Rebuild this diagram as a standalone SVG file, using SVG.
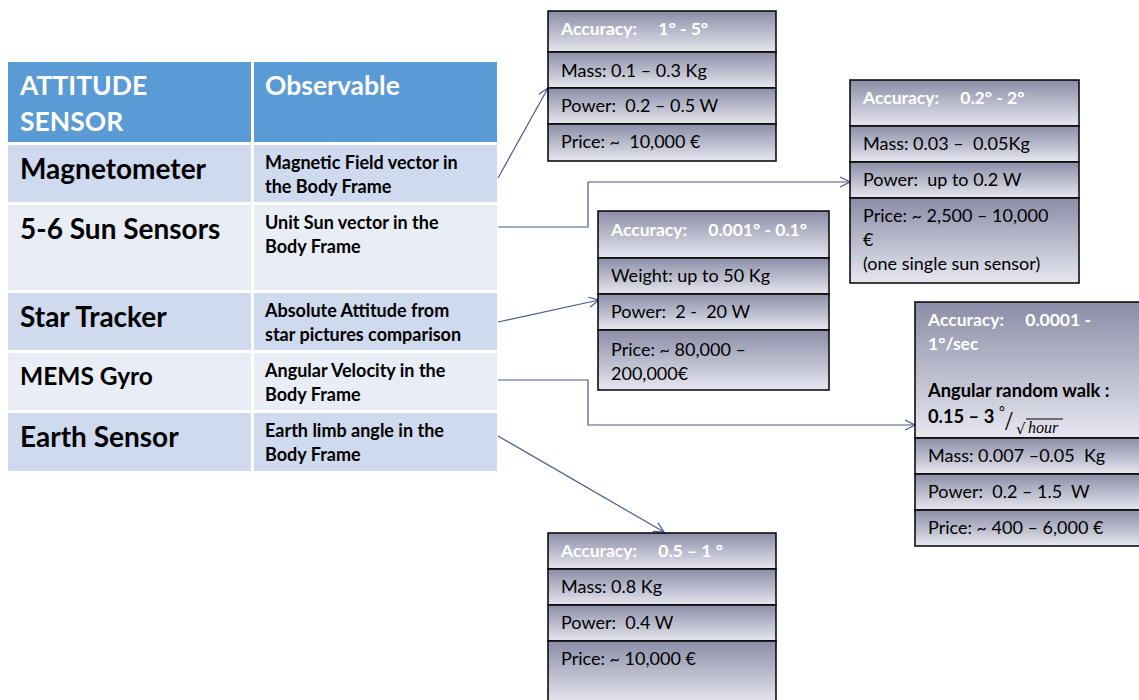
<svg xmlns="http://www.w3.org/2000/svg" width="1139" height="700" viewBox="0 0 1139 700">
<defs>
<linearGradient id="g" x1="0" y1="0" x2="0" y2="1">
<stop offset="0" stop-color="#8B8DA7"/>
<stop offset="1" stop-color="#E6E7EF"/>
</linearGradient>
<marker id="arr" viewBox="0 0 12 12" refX="11" refY="6" markerWidth="12" markerHeight="12" markerUnits="userSpaceOnUse" orient="auto">
<path d="M1,1 L11,6 L1,11" fill="none" stroke="#4A5A8A" stroke-width="1.2"/>
</marker>
<style>
text{font-family:Lato,"Open Sans","Liberation Sans",sans-serif;}
.hd{fill:#5B9BD5}
.r1{fill:#CFDAEE}
.r2{fill:#E8EDF6}
.th{fill:#fff;font-weight:bold;font-size:26.5px}
.tn{fill:#000;font-weight:bold;font-size:28px}
.to{fill:#000;font-weight:bold;font-size:18px}
.cell{fill:url(#g);stroke:#000;stroke-width:1.5}
.bh{fill:#fff;font-weight:bold;font-size:17.5px}
.bt{fill:#000;font-size:18px}
.bb{fill:#000;font-weight:bold;font-size:18.3px}
.con{fill:none;stroke:#4A5A8A;stroke-width:1.2}
</style>
</defs>
<rect width="1139" height="700" fill="#fff"/>

<g id="table">
<rect class="hd" x="8" y="62" width="243" height="80"/>
<rect class="hd" x="254" y="62" width="243" height="80"/>
<text class="th" x="20" y="95">ATTITUDE</text>
<text class="th" x="20" y="131">SENSOR</text>
<text class="th" x="265" y="95">Observable</text>
</g>
<g id="row-magnetometer">
<rect class="r1" x="8" y="145" width="243" height="57"/>
<rect class="r1" x="254" y="145" width="243" height="57"/>
<text class="tn" x="20" y="179">Magnetometer</text>
<text class="to" x="265" y="169">Magnetic Field vector in</text>
<text class="to" x="265" y="193">the Body Frame</text>
</g>
<g id="row-sun">
<rect class="r2" x="8" y="205" width="243" height="85"/>
<rect class="r2" x="254" y="205" width="243" height="85"/>
<text class="tn" x="20" y="239">5-6 Sun Sensors</text>
<text class="to" x="265" y="229">Unit Sun vector in the</text>
<text class="to" x="265" y="253">Body Frame</text>
</g>
<g id="row-star">
<rect class="r1" x="8" y="293" width="243" height="57"/>
<rect class="r1" x="254" y="293" width="243" height="57"/>
<text class="tn" x="20" y="327">Star Tracker</text>
<text class="to" x="265" y="317">Absolute Attitude from</text>
<text class="to" x="265" y="341">star pictures comparison</text>
</g>
<g id="row-mems">
<rect class="r2" x="8" y="353" width="243" height="57"/>
<rect class="r2" x="254" y="353" width="243" height="57"/>
<text class="tn" x="20" y="385" style="font-size:24.5px">MEMS Gyro</text>
<text class="to" x="265" y="377">Angular Velocity in the</text>
<text class="to" x="265" y="401">Body Frame</text>
</g>
<g id="row-earth">
<rect class="r1" x="8" y="413" width="243" height="58"/>
<rect class="r1" x="254" y="413" width="243" height="58"/>
<text class="tn" x="20" y="447">Earth Sensor</text>
<text class="to" x="265" y="437">Earth limb angle in the</text>
<text class="to" x="265" y="461">Body Frame</text>
</g>

<g id="connectors">
<path class="con" d="M498,178 L548,88" marker-end="url(#arr)"/>
<path class="con" d="M498,227 H588 V182 H850" marker-end="url(#arr)"/>
<path class="con" d="M498,322 L599,300" marker-end="url(#arr)"/>
<path class="con" d="M498,380 H588 V425 H915" marker-end="url(#arr)"/>
<path class="con" d="M498,436 L664,532" marker-end="url(#arr)"/>
</g>

<g id="box-magnetometer">
<rect class="cell" x="548" y="11" width="228" height="41"/>
<rect class="cell" x="548" y="52" width="228" height="36"/>
<rect class="cell" x="548" y="88" width="228" height="36"/>
<rect class="cell" x="548" y="124" width="228" height="37"/>
<text class="bh" x="561" y="35" xml:space="preserve">Accuracy:     1° - 5°</text>
<text class="bt" x="561" y="77">Mass: 0.1 – 0.3 Kg</text>
<text class="bt" x="561" y="112" xml:space="preserve">Power:  0.2 – 0.5 W</text>
<text class="bt" x="561" y="148" xml:space="preserve">Price: ~  10,000 €</text>
</g>

<g id="box-sun">
<rect class="cell" x="850" y="80" width="229" height="46"/>
<rect class="cell" x="850" y="126" width="229" height="36"/>
<rect class="cell" x="850" y="162" width="229" height="36"/>
<rect class="cell" x="850" y="198" width="229" height="85"/>
<text class="bh" x="863" y="104" xml:space="preserve">Accuracy:     0.2° - 2°</text>
<text class="bt" x="863" y="150" xml:space="preserve">Mass: 0.03 –  0.05Kg</text>
<text class="bt" x="863" y="186" xml:space="preserve">Power:  up to 0.2 W</text>
<text class="bt" x="863" y="222">Price: ~ 2,500 – 10,000</text>
<text class="bt" x="863" y="246">€</text>
<text class="bt" x="863" y="270">(one single sun sensor)</text>
</g>

<g id="box-star">
<rect class="cell" x="598" y="211" width="231" height="47"/>
<rect class="cell" x="598" y="258" width="231" height="36"/>
<rect class="cell" x="598" y="294" width="231" height="36"/>
<rect class="cell" x="598" y="330" width="231" height="60"/>
<text class="bh" x="611" y="236" xml:space="preserve">Accuracy:     0.001° - 0.1°</text>
<text class="bt" x="611" y="282">Weight: up to 50 Kg</text>
<text class="bt" x="611" y="318" xml:space="preserve">Power:  2 -  20 W</text>
<text class="bt" x="611" y="356">Price: ~ 80,000 –</text>
<text class="bt" x="611" y="380">200,000€</text>
</g>

<g id="box-mems">
<rect class="cell" x="915" y="302" width="232" height="136"/>
<rect class="cell" x="915" y="438" width="232" height="36"/>
<rect class="cell" x="915" y="474" width="232" height="36"/>
<rect class="cell" x="915" y="510" width="232" height="36"/>
<text class="bh" x="928" y="326" xml:space="preserve">Accuracy:     0.0001 -</text>
<text class="bh" x="928" y="350">1°/sec</text>
<text class="bb" x="928" y="397">Angular random walk :</text>
<text class="bb" x="928" y="423">0.15 – 3</text>
<text x="999" y="416" style="font-size:14px;fill:#000">°</text>
<text x="1005" y="430" style="font-family:'Liberation Serif',serif;font-size:28px;fill:#000">/</text>
<text x="1016" y="434" style="font-family:'DejaVu Serif',serif;font-size:15px;fill:#000">√</text>
<text x="1028" y="433" style="font-family:'Liberation Serif',serif;font-style:italic;font-size:16px;fill:#000">hour</text>
<line x1="1026" y1="419" x2="1063" y2="419" stroke="#000" stroke-width="1"/>
<text class="bt" x="928" y="462" xml:space="preserve">Mass: 0.007 –0.05  Kg</text>
<text class="bt" x="928" y="498" xml:space="preserve">Power:  0.2 – 1.5  W</text>
<text class="bt" x="928" y="534">Price: ~ 400 – 6,000 €</text>
</g>

<g id="box-earth">
<rect class="cell" x="548" y="533" width="228" height="36"/>
<rect class="cell" x="548" y="569" width="228" height="36"/>
<rect class="cell" x="548" y="605" width="228" height="36"/>
<rect class="cell" x="548" y="641" width="228" height="62"/>
<text class="bh" x="561" y="557" xml:space="preserve">Accuracy:     0.5 – 1 °</text>
<text class="bt" x="561" y="593">Mass: 0.8 Kg</text>
<text class="bt" x="561" y="629" xml:space="preserve">Power:  0.4 W</text>
<text class="bt" x="561" y="665">Price: ~ 10,000 €</text>
</g>
</svg>
